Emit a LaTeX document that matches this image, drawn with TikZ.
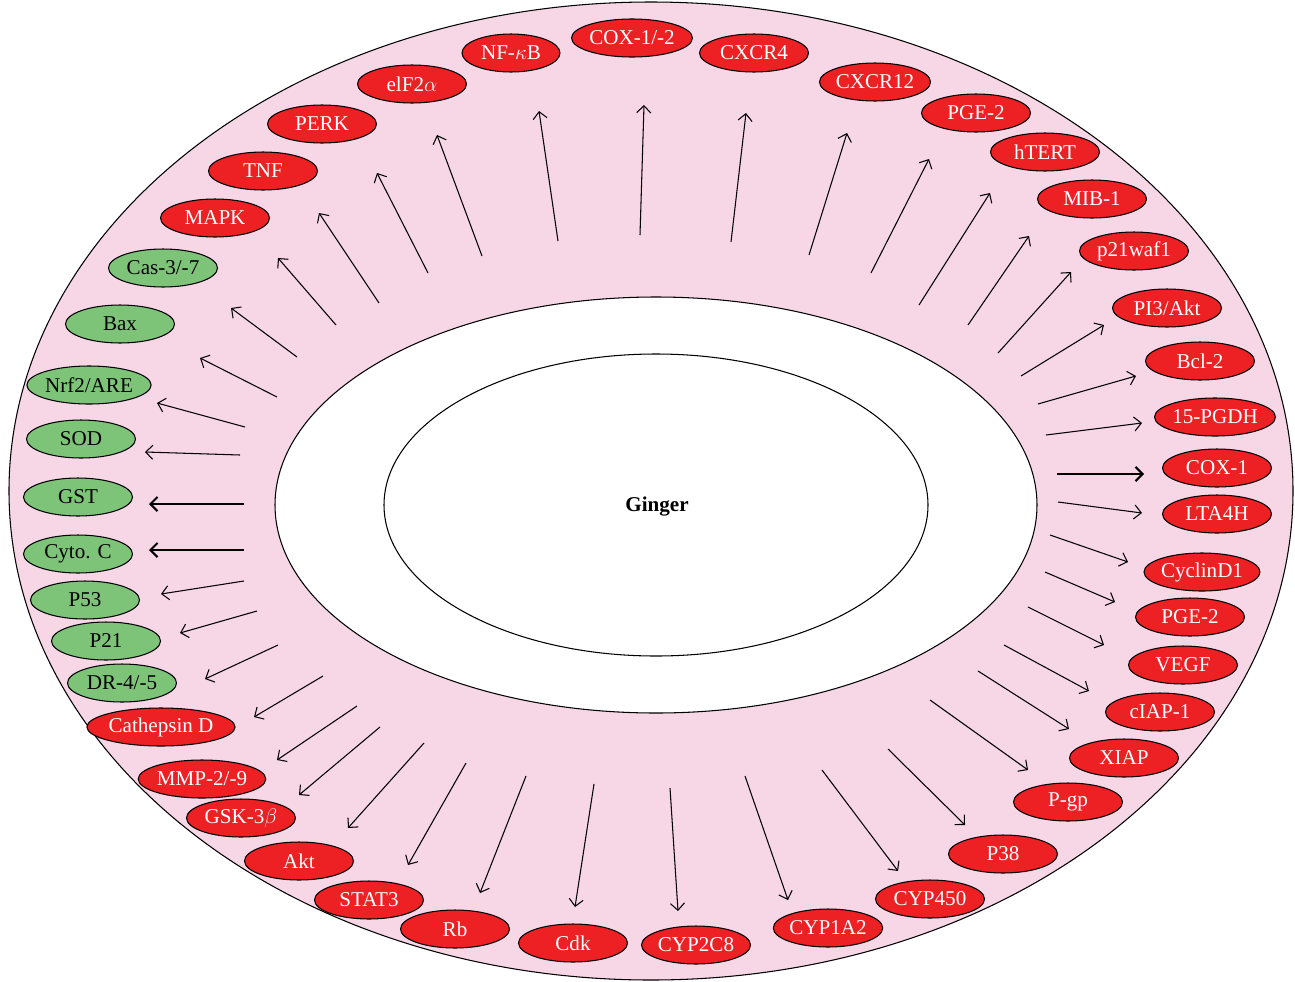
\documentclass[tikz,border=0pt]{standalone}
\usepackage{fontspec}
\setmainfont{Liberation Serif}
\usetikzlibrary{shapes.geometric,arrows.meta}
\definecolor{ringpink}{RGB}{247,214,230}
\definecolor{upred}{RGB}{237,32,36}
\definecolor{downgreen}{RGB}{125,196,120}

\begin{document}
\begin{tikzpicture}[x=0.02cm,y=-0.02cm]
\tikzstyle{every node}=[draw,shape=ellipse,inner sep=0pt,minimum width=2.18cm,minimum height=0.76cm,line width=0.6pt,font=\fontsize{12}{14}\selectfont];
\tikzstyle{up}=[fill=upred,text=white];
\tikzstyle{down}=[fill=downgreen,text=black];
\tikzstyle{arr}=[-{Straight Barb[length=4pt,width=8pt]},line width=0.6pt];
\tikzstyle{thick arr}=[arr,line width=1.2pt];
\useasboundingbox (0,0) rectangle (1295,981);
% rings
\draw[fill=ringpink,line width=0.6pt] (651,491) ellipse [x radius=642, y radius=489];
\draw[fill=white,line width=0.6pt] (656,505) ellipse [x radius=381, y radius=208];
\draw[fill=white,line width=0.6pt] (656,505) ellipse [x radius=272, y radius=151];
\node [draw=none,shape=rectangle,font=\fontsize{12}{14}\selectfont\bfseries] (ginger) at (657,507) {Ginger};
% up (red)
\node [up] (cox12) at (632,38) {COX-1/-2};
\node [up,minimum width=1.96cm] (nfkb) at (511,53) {NF-$\kappa$B};
\node [up] (cxcr4) at (754,53) {CXCR4};
\node [up] (eif2a) at (412,84) {elF2$\alpha$};
\node [up] (cxcr12) at (875,82) {CXCR12};
\node [up] (perk) at (322,124) {PERK};
\node [up] (pgea) at (976,113) {PGE-2};
\node [up] (tnf) at (263,171) {TNF};
\node [up] (htert) at (1045,152) {hTERT};
\node [up] (mapk) at (215,218) {MAPK};
\node [up] (mib1) at (1092,199) {MIB-1};
\node [up] (p21waf1) at (1134,251) {p21waf1};
\node [up] (pi3akt) at (1167,308) {PI3/Akt};
\node [up] (bcl2) at (1200,361) {Bcl-2};
\node [up] (pgdh) at (1215,417) {15-PGDH};
\node [up] (cox1) at (1217,468) {COX-1};
\node [up] (lta4h) at (1217,514) {LTA4H};
\node [up] (cyclind1) at (1202,572) {CyclinD1};
\node [up] (pgeb) at (1190,617) {PGE-2};
\node [up] (vegf) at (1183,665) {VEGF};
\node [up] (ciap1) at (1160,712) {cIAP-1};
\node [up] (xiap) at (1124,758) {XIAP};
\node [up] (pgp) at (1068,802) {P-gp};
\node [up] (p38) at (1003,854) {P38};
\node [up] (cyp450) at (930,899) {CYP450};
\node [up] (cyp1a2) at (828,928) {CYP1A2};
\node [up] (cyp2c8) at (696,945) {CYP2C8};
\node [up] (cdk) at (573,943) {Cdk};
\node [up] (rb) at (455,929) {Rb};
\node [up] (stat3) at (369,900) {STAT3};
\node [up] (akt) at (299,861) {Akt};
\node [up] (gsk3b) at (241,818) {GSK-3$\beta$};
\node [up] (mmp29) at (202,779) {MMP-2/-9};
\node [up,minimum width=2.9cm] (cathd) at (161,727) {Cathepsin D};
% down (green)
\node [down] (cas37) at (163,268) {Cas-3/-7};
\node [down] (bax) at (120,324) {Bax};
\node [down] (nrf2) at (89,385) {Nrf2/ARE};
\node [down] (sod) at (81,439) {SOD};
\node [down] (gst) at (78,497) {GST};
\node [down] (cytoc) at (78,554) {Cyto. C};
\node [down] (p53) at (85,600) {P53};
\node [down] (p21) at (106,641) {P21};
\node [down] (dr45) at (122,683) {DR-4/-5};
% arrows
\coordinate (a1) at (482,256); \coordinate (b1) at (437,135); \draw[arr] (a1) -- (b1);
\coordinate (a2) at (558,241); \coordinate (b2) at (539,111); \draw[arr] (a2) -- (b2);
\coordinate (a3) at (640,235); \coordinate (b3) at (644,105); \draw[arr] (a3) -- (b3);
\coordinate (a4) at (731,242); \coordinate (b4) at (746,113); \draw[arr] (a4) -- (b4);
\coordinate (a5) at (809,255); \coordinate (b5) at (847,133); \draw[arr] (a5) -- (b5);
\coordinate (a6) at (871,273); \coordinate (b6) at (929,159); \draw[arr] (a6) -- (b6);
\coordinate (a7) at (919,305); \coordinate (b7) at (990,193); \draw[arr] (a7) -- (b7);
\coordinate (a8) at (968,325); \coordinate (b8) at (1029,236); \draw[arr] (a8) -- (b8);
\coordinate (a9) at (998,353); \coordinate (b9) at (1071,272); \draw[arr] (a9) -- (b9);
\coordinate (a10) at (1021,376); \coordinate (b10) at (1104,325); \draw[arr] (a10) -- (b10);
\coordinate (a11) at (1038,404); \coordinate (b11) at (1136,376); \draw[arr] (a11) -- (b11);
\coordinate (a12) at (1046,435); \coordinate (b12) at (1142,423); \draw[arr] (a12) -- (b12);
\coordinate (a13) at (1057,474); \coordinate (b13) at (1144,474); \draw[thick arr] (a13) -- (b13);
\coordinate (a14) at (1058,502); \coordinate (b14) at (1142,513); \draw[arr] (a14) -- (b14);
\coordinate (a15) at (1050,535); \coordinate (b15) at (1128,562); \draw[arr] (a15) -- (b15);
\coordinate (a16) at (1045,572); \coordinate (b16) at (1115,602); \draw[arr] (a16) -- (b16);
\coordinate (a17) at (1028,607); \coordinate (b17) at (1104,645); \draw[arr] (a17) -- (b17);
\coordinate (a18) at (1004,645); \coordinate (b18) at (1089,691); \draw[arr] (a18) -- (b18);
\coordinate (a19) at (978,671); \coordinate (b19) at (1069,729); \draw[arr] (a19) -- (b19);
\coordinate (a20) at (930,700); \coordinate (b20) at (1028,770); \draw[arr] (a20) -- (b20);
\coordinate (a21) at (888,749); \coordinate (b21) at (965,825); \draw[arr] (a21) -- (b21);
\coordinate (a22) at (822,770); \coordinate (b22) at (898,871); \draw[arr] (a22) -- (b22);
\coordinate (a23) at (745,776); \coordinate (b23) at (788,900); \draw[arr] (a23) -- (b23);
\coordinate (a24) at (670,788); \coordinate (b24) at (678,911); \draw[arr] (a24) -- (b24);
\coordinate (a25) at (594,784); \coordinate (b25) at (575,907); \draw[arr] (a25) -- (b25);
\coordinate (a26) at (526,776); \coordinate (b26) at (480,893); \draw[arr] (a26) -- (b26);
\coordinate (a27) at (466,763); \coordinate (b27) at (408,865); \draw[arr] (a27) -- (b27);
\coordinate (a28) at (424,743); \coordinate (b28) at (348,828); \draw[arr] (a28) -- (b28);
\coordinate (a29) at (380,727); \coordinate (b29) at (299,795); \draw[arr] (a29) -- (b29);
\coordinate (a30) at (357,706); \coordinate (b30) at (277,760); \draw[arr] (a30) -- (b30);
\coordinate (a31) at (323,676); \coordinate (b31) at (254,717); \draw[arr] (a31) -- (b31);
\coordinate (a32) at (278,645); \coordinate (b32) at (205,679); \draw[arr] (a32) -- (b32);
\coordinate (a33) at (257,611); \coordinate (b33) at (180,633); \draw[arr] (a33) -- (b33);
\coordinate (a34) at (244,581); \coordinate (b34) at (161,594); \draw[arr] (a34) -- (b34);
\coordinate (a35) at (244,550); \coordinate (b35) at (149,550); \draw[thick arr] (a35) -- (b35);
\coordinate (a36) at (244,504); \coordinate (b36) at (149,504); \draw[thick arr] (a36) -- (b36);
\coordinate (a37) at (240,455); \coordinate (b37) at (145,452); \draw[arr] (a37) -- (b37);
\coordinate (a38) at (245,427); \coordinate (b38) at (157,403); \draw[arr] (a38) -- (b38);
\coordinate (a39) at (277,397); \coordinate (b39) at (200,358); \draw[arr] (a39) -- (b39);
\coordinate (a40) at (297,357); \coordinate (b40) at (231,308); \draw[arr] (a40) -- (b40);
\coordinate (a41) at (336,325); \coordinate (b41) at (278,258); \draw[arr] (a41) -- (b41);
\coordinate (a42) at (379,303); \coordinate (b42) at (319,213); \draw[arr] (a42) -- (b42);
\coordinate (a43) at (428,273); \coordinate (b43) at (377,173); \draw[arr] (a43) -- (b43);
\end{tikzpicture}
\end{document}
